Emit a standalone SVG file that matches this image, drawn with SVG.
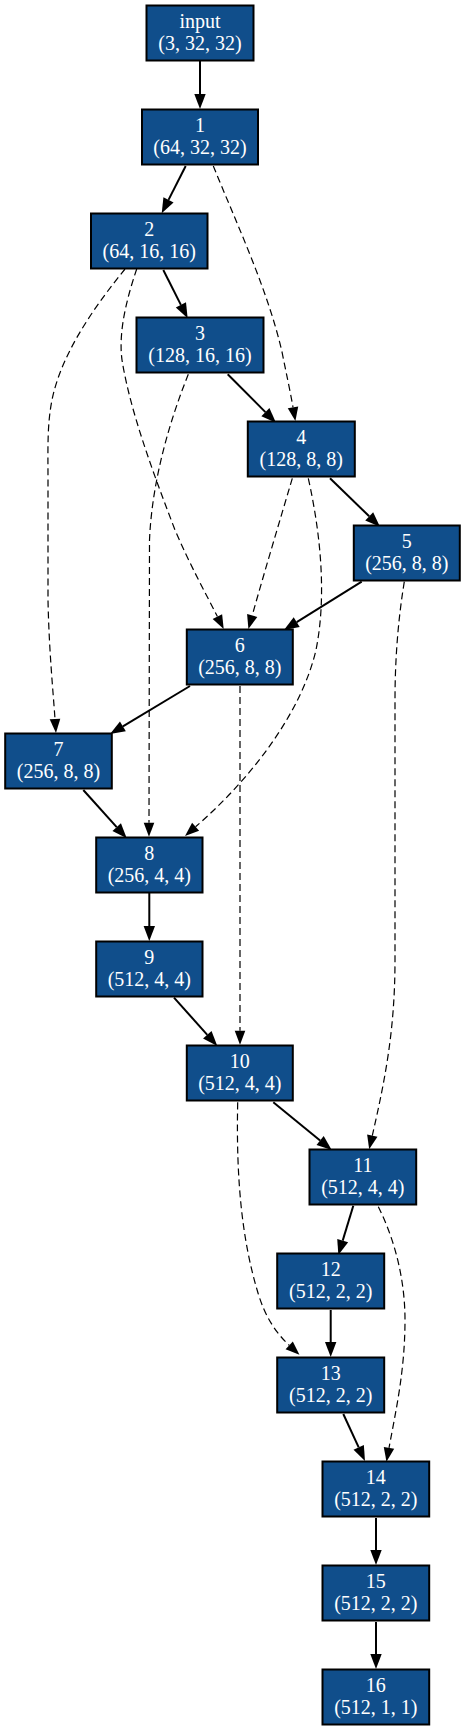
<svg xmlns="http://www.w3.org/2000/svg" width="465" height="1731" viewBox="0 0 465 1731">
<style>
.n rect{fill:#104E8B;stroke:#000;stroke-width:2}
.n text{fill:#fff;font-family:"Liberation Serif","Times New Roman",serif;font-size:20px;text-anchor:middle}
.s{fill:none;stroke:#000;stroke-width:2;marker-end:url(#as)}
.d{fill:none;stroke:#000;stroke-width:1.2;stroke-dasharray:7,4;marker-end:url(#ad)}
</style>
<defs>
<marker id="as" markerUnits="userSpaceOnUse" orient="auto" refX="0" refY="0" markerWidth="16" markerHeight="12" viewBox="0 -6 16 12" overflow="visible"><path d="M0,-5.7L15,0L0,5.7z" fill="#000"/></marker>
<marker id="ad" markerUnits="userSpaceOnUse" orient="auto" refX="0" refY="0" markerWidth="15" markerHeight="12" viewBox="0 -6 15 12" overflow="visible"><path d="M0,-5.3L14,0L0,5.3z" fill="#000"/></marker>
</defs>
<rect width="465" height="1731" fill="#fff"/>
<g id="edges">
<path class="s" d="M200,61L200,94"/>
<path class="s" d="M185.7,166L168.5,199.9"/>
<path class="s" d="M163.3,270L180.9,304.9"/>
<path class="s" d="M227.7,374.3L265.4,412.1"/>
<path class="s" d="M330,478.3L369.2,516.3"/>
<path class="s" d="M361.7,581.7L296.7,622.1"/>
<path class="s" d="M190,686L122.9,726.3"/>
<path class="s" d="M83.3,790L116.7,827.1"/>
<path class="s" d="M149.3,893L149.3,926"/>
<path class="s" d="M174,997.7L207.3,1034.8"/>
<path class="s" d="M273.3,1102.3L320.1,1140.5"/>
<path class="s" d="M353.3,1205.7L342.7,1240.6"/>
<path class="s" d="M330.7,1310L330.7,1342"/>
<path class="s" d="M343.3,1414L358.7,1447.4"/>
<path class="s" d="M376,1518L376,1550"/>
<path class="s" d="M376,1622L376,1654"/>
<path class="d" d="M213.3,166C235,220 268,290 282,352C286,372 290,390 293,407.3"/>
<path class="d" d="M125,269C100,300 62,350 52,400C47,425 48,450 48,480L48,600C49,650 53,690 55,719"/>
<path class="d" d="M136.7,269C128,295 118,330 122,360C130,410 152,470 175,530C190,565 205,592 217.4,616.6"/>
<path class="d" d="M188.3,374.3C170,420 152,480 149.5,540L149,822.7"/>
<path class="d" d="M292.3,478.3C280,520 265,570 252.2,615.5"/>
<path class="d" d="M308.3,478.3C322,540 326,600 316,650C302,710 255,775 195.6,826.8"/>
<path class="d" d="M404.3,581.7C398,620 395,660 395,700L395,960C395,1030 385,1080 372.3,1135.6"/>
<path class="d" d="M240,686L240,1030.7"/>
<path class="d" d="M237.7,1102.3C236,1180 242,1240 258,1293C265,1316 275,1332 289.2,1345.3"/>
<path class="d" d="M378.3,1206.7C395,1240 405,1280 405,1320C405,1370 396,1410 389,1447.9"/>
</g>
<g id="n_input" class="n"><rect x="146.5" y="5.5" width="107" height="55"/><text x="200" y="27.5">input</text><text x="200" y="49.5">(3, 32, 32)</text></g>
<g id="n1" class="n"><rect x="142" y="109.5" width="116" height="55"/><text x="200" y="131.5">1</text><text x="200" y="153.5">(64, 32, 32)</text></g>
<g id="n2" class="n"><rect x="91" y="213.5" width="116.5" height="55"/><text x="149.2" y="235.5">2</text><text x="149.2" y="257.5">(64, 16, 16)</text></g>
<g id="n3" class="n"><rect x="136.5" y="317.5" width="127" height="55"/><text x="200" y="339.5">3</text><text x="200" y="361.5">(128, 16, 16)</text></g>
<g id="n4" class="n"><rect x="247.8" y="421.5" width="107" height="55"/><text x="301.2" y="443.5">4</text><text x="301.2" y="465.5">(128, 8, 8)</text></g>
<g id="n5" class="n"><rect x="353.8" y="525.5" width="106" height="55"/><text x="406.8" y="547.5">5</text><text x="406.8" y="569.5">(256, 8, 8)</text></g>
<g id="n6" class="n"><rect x="186.8" y="629.5" width="106" height="55"/><text x="239.8" y="651.5">6</text><text x="239.8" y="673.5">(256, 8, 8)</text></g>
<g id="n7" class="n"><rect x="5.2" y="733.5" width="106.6" height="55"/><text x="58.5" y="755.5">7</text><text x="58.5" y="777.5">(256, 8, 8)</text></g>
<g id="n8" class="n"><rect x="96.2" y="837.5" width="106.3" height="55"/><text x="149.3" y="859.5">8</text><text x="149.3" y="881.5">(256, 4, 4)</text></g>
<g id="n9" class="n"><rect x="96.2" y="941.5" width="106.3" height="55"/><text x="149.3" y="963.5">9</text><text x="149.3" y="985.5">(512, 4, 4)</text></g>
<g id="n10" class="n"><rect x="186.8" y="1045.5" width="106" height="55"/><text x="239.8" y="1067.5">10</text><text x="239.8" y="1089.5">(512, 4, 4)</text></g>
<g id="n11" class="n"><rect x="309.5" y="1149.5" width="106.7" height="55"/><text x="362.8" y="1171.5">11</text><text x="362.8" y="1193.5">(512, 4, 4)</text></g>
<g id="n12" class="n"><rect x="277.2" y="1253.5" width="107" height="55"/><text x="330.7" y="1275.5">12</text><text x="330.7" y="1297.5">(512, 2, 2)</text></g>
<g id="n13" class="n"><rect x="277.2" y="1357.5" width="107" height="55"/><text x="330.7" y="1379.5">13</text><text x="330.7" y="1401.5">(512, 2, 2)</text></g>
<g id="n14" class="n"><rect x="322.5" y="1461.5" width="106.7" height="55"/><text x="375.8" y="1483.5">14</text><text x="375.8" y="1505.5">(512, 2, 2)</text></g>
<g id="n15" class="n"><rect x="322.5" y="1565.5" width="106.7" height="55"/><text x="375.8" y="1587.5">15</text><text x="375.8" y="1609.5">(512, 2, 2)</text></g>
<g id="n16" class="n"><rect x="322.5" y="1669.5" width="106.7" height="55"/><text x="375.8" y="1691.5">16</text><text x="375.8" y="1713.5">(512, 1, 1)</text></g>
</svg>
